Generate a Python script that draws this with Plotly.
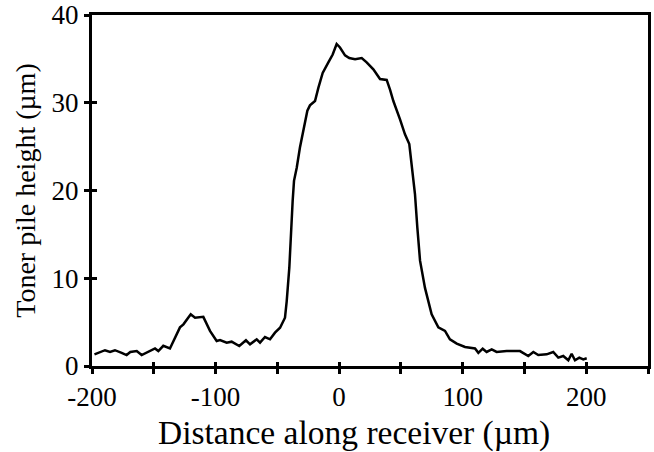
import plotly.graph_objects as go

# profile (x in um, height in um)
distance = [
    -198, -189.5, -185.4, -181.4, -176, -172, -169, -163.8, -159.8, -154.4,
    -149, -146.3, -142.3, -136.9, -132.8, -128.8, -126, -120.1, -116.6, -109.9,
    -104.5, -99.1, -96.4, -91, -87, -80.8, -75.4, -72.1, -66.7, -64,
    -60, -55.9, -51.9, -47.8, -43.8, -42.4, -40.3, -39.2, -37.6, -36.5,
    -34.3, -31.7, -29, -25.7, -23.6, -19.5, -16.8, -13.3, -8.7, -5.2,
    -2, 0.7, 4.8, 8.2, 12.9, 18.3, 22.3, 27.7, 33.1, 38.5,
    41.2, 43.9, 49.3, 53.3, 56.8, 58.7, 61.4, 63.3, 65.5, 69.5,
    74.9, 80.3, 85.7, 89.7, 95.2, 101.9, 110, 112.7, 116.2, 119.4,
    123.5, 127.5, 135.6, 146.4, 149.1, 153.1, 157.2, 161.2, 168, 173.3,
    177.4, 181.4, 185.5, 188.2, 190.9, 194.4, 197.6, 200.4,
]
height = [
    1.33, 1.8, 1.6, 1.8, 1.5, 1.25, 1.6, 1.7, 1.25, 1.6,
    2.0, 1.7, 2.3, 2.0, 3.2, 4.4, 4.75, 5.9, 5.5, 5.6,
    4.0, 2.85, 2.96, 2.66, 2.77, 2.28, 2.93, 2.47, 3.04, 2.66,
    3.3, 3.04, 3.8, 4.36, 5.5, 7.4, 11.2, 15.0, 18.8, 21.1,
    22.6, 24.9, 26.8, 29.1, 29.7, 30.2, 31.7, 33.4, 34.6, 35.5,
    36.7, 36.3, 35.4, 35.1, 34.95, 35.1, 34.6, 33.8, 32.7, 32.6,
    31.5, 30.2, 28.1, 26.4, 25.3, 22.6, 19.6, 15.8, 12.0, 8.9,
    5.9, 4.4, 4.0, 3.04, 2.55, 2.17, 2.0, 1.5, 1.97, 1.6,
    1.9, 1.6, 1.7, 1.7, 1.5, 1.14, 1.6, 1.25, 1.33, 1.6,
    0.95, 1.14, 0.65, 1.4, 0.65, 0.95, 0.76, 0.88,
]

x_ticks = [-200, -150, -100, -50, 0, 50, 100, 150, 200, 250]
x_labels = ["-200", "", "-100", "", "0", "", "100", "", "200", ""]
y_ticks = [0, 10, 20, 30, 40]

serif = "Liberation Serif"

fig = go.Figure()
fig.add_trace(go.Scatter(x=distance, y=height, mode="lines",
                         line=dict(color="black", width=2.5), showlegend=False))
# invisible trace so the overlay axes (inner half of the cross ticks) get drawn
fig.add_trace(go.Scatter(x=[0], y=[0], xaxis="x2", yaxis="y2", mode="markers",
                         marker=dict(opacity=0), showlegend=False, hoverinfo="skip"))

fig.update_layout(
    width=654, height=452,
    margin=dict(l=92, r=6, t=15, b=86),
    paper_bgcolor="white", plot_bgcolor="white",
    font=dict(family=serif, color="black"),
    xaxis=dict(
        range=[-200, 250], tickvals=x_ticks, ticktext=x_labels,
        ticks="outside", ticklen=5, tickwidth=2.5, tickcolor="black",
        showline=True, linewidth=3, linecolor="black", mirror=True,
        showgrid=False, zeroline=False, automargin=False,
        tickfont=dict(size=27, family=serif),
    ),
    yaxis=dict(
        range=[0, 40], tickvals=y_ticks,
        ticks="outside", ticklen=5, tickwidth=2.5, tickcolor="black",
        showline=True, linewidth=3, linecolor="black", mirror=True,
        showgrid=False, zeroline=False, automargin=False,
        tickfont=dict(size=27, family=serif),
        title=dict(text="Toner pile height (µm)", font=dict(size=28, family=serif), standoff=8),
    ),
    xaxis2=dict(
        overlaying="x", matches="x", anchor="y2", side="bottom",
        tickvals=x_ticks, ticks="inside", ticklen=4, tickwidth=2.5, tickcolor="black",
        showticklabels=False, showline=False, showgrid=False, zeroline=False,
    ),
    yaxis2=dict(
        overlaying="y", matches="y", anchor="x2", side="left",
        tickvals=y_ticks, ticks="inside", ticklen=5, tickwidth=2.5, tickcolor="black",
        showticklabels=False, showline=False, showgrid=False, zeroline=False,
    ),
)

# x title sits a bit left of the plot centre in the original
fig.add_annotation(
    text="Distance along receiver (µm)", xref="paper", yref="paper",
    x=0.472, y=-0.13, xanchor="center", yanchor="top", showarrow=False,
    font=dict(size=33.5, family=serif, color="black"),
)

# page body has a default 8px margin; drop it so the figure sits at 0,0
fig.write_html("out.html", config={"displayModeBar": False},
               post_script="document.body.style.margin='0';")
